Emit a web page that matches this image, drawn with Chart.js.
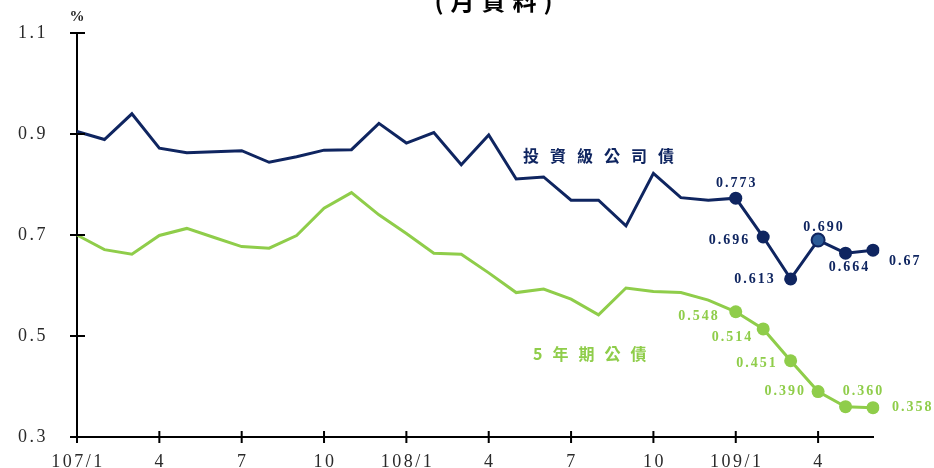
<!DOCTYPE html>
<html>
<head>
<meta charset="utf-8">
<script src="https://cdn.jsdelivr.net/npm/chart.js@4"></script>
<style>
  html, body { margin: 0; padding: 0; background: #fff; overflow: hidden; }
  #wrap { position: relative; width: 934px; height: 468px; }
  #title {
    position: absolute; left: 0; width: 994px; top: -18px; text-align: center;
    font: bold 24px "Noto Sans CJK TC", serif; letter-spacing: 7px; color: #000;
  }
</style>
</head>
<body>
<div id="wrap">
  <canvas id="chart" width="934" height="468"></canvas>
  <div id="title">(月資料)</div>
</div>
<script>
  // months 107/1 .. 109/6
  const categories = [
    '107/1','107/2','107/3','107/4','107/5','107/6','107/7','107/8','107/9','107/10','107/11','107/12',
    '108/1','108/2','108/3','108/4','108/5','108/6','108/7','108/8','108/9','108/10','108/11','108/12',
    '109/1','109/2','109/3','109/4','109/5','109/6'
  ];
  const tickText = [
    '107/1','','','4','','','7','','','10','','',
    '108/1','','','4','','','7','','','10','','',
    '109/1','','','4','',''
  ];
  const yTicks = [0.3, 0.5, 0.7, 0.9, 1.1];

  // 投資級公司債
  const corpBond = [
    0.905, 0.889, 0.940, 0.872, 0.863, 0.865, 0.867, 0.844, 0.855, 0.868, 0.869, 0.921,
    0.882, 0.903, 0.839, 0.898, 0.811, 0.815, 0.769, 0.769, 0.718, 0.822, 0.774, 0.769,
    0.773, 0.696, 0.613, 0.690, 0.664, 0.67
  ];
  // 5年期公債
  const govBond = [
    0.700, 0.671, 0.662, 0.699, 0.713, 0.695, 0.677, 0.674, 0.699, 0.753, 0.784, 0.740,
    0.703, 0.664, 0.662, 0.625, 0.586, 0.593, 0.573, 0.542, 0.595, 0.588, 0.586, 0.571,
    0.548, 0.514, 0.451, 0.390, 0.360, 0.358
  ];
  const corpLabels = ['0.773','0.696','0.613','0.690','0.664','0.67'];
  const govLabels = ['0.548','0.514','0.451','0.390','0.360','0.358'];

  const NAVY = '#0f2560';
  const GREEN = '#8fcd4a';
  const firstMarked = 24;

  // label placement relative to the point: [dx, dy, align]
  const corpLabelPos = [[0,-15,'center'],[-14,3,'right'],[-16,0,'right'],[5,-13,'center'],[3,14,'center'],[16,11,'left']];
  const govLabelPos = [[-17,5,'right'],[-11,8,'right'],[-14,3,'right'],[-13,0,'right'],[17,-15,'center'],[19,0,'left']];

  const decor = {
    id: 'decor',
    afterDraw(chart) {
      const { ctx, scales: { x, y } } = chart;
      ctx.save();
      // cross ticks on the axes
      ctx.strokeStyle = '#000';
      ctx.lineWidth = 2;
      ctx.beginPath();
      yTicks.forEach(v => {
        const py = y.getPixelForValue(v);
        ctx.moveTo(x.left - 7, py);
        ctx.lineTo(x.left + 8, py);
      });
      tickText.forEach((t, i) => {
        if (!t) return;
        const px = x.getPixelForValue(i);
        ctx.moveTo(px, y.bottom - 6);
        ctx.lineTo(px, y.bottom + 6);
      });
      ctx.stroke();

      // tick labels (wide serif look)
      ctx.font = '18px "Liberation Serif"';
      ctx.letterSpacing = '2.5px';
      ctx.fillStyle = '#2a2a2a';
      ctx.textBaseline = 'middle';
      ctx.textAlign = 'right';
      yTicks.forEach(v => {
        ctx.fillText(v.toFixed(1), 48, y.getPixelForValue(v));
      });
      ctx.textAlign = 'center';
      tickText.forEach((t, i) => {
        if (!t) return;
        ctx.fillText(t, x.getPixelForValue(i) + 1, 462);
      });

      // unit
      ctx.fillStyle = '#222';
      ctx.font = 'bold 15px "Liberation Serif"';
      ctx.letterSpacing = '2px';
      ctx.fillText('%', x.left + 1, 17);

      // value labels
      const drawLabels = (dsIndex, texts, pos, color) => {
        const meta = chart.getDatasetMeta(dsIndex);
        ctx.fillStyle = color;
        ctx.font = 'bold 14px "Liberation Serif"';
        ctx.letterSpacing = '2px';
        texts.forEach((t, k) => {
          const pt = meta.data[firstMarked + k];
          const [dx, dy, align] = pos[k];
          ctx.textAlign = align;
          ctx.fillText(t, pt.x + dx + (align === 'left' ? 0 : 1), pt.y + dy);
        });
      };
      drawLabels(0, corpLabels, corpLabelPos, NAVY);
      drawLabels(1, govLabels, govLabelPos, GREEN);

      // series names
      ctx.font = 'bold 16px "Noto Sans CJK TC"';
      ctx.letterSpacing = '11px';
      ctx.textAlign = 'left';
      ctx.fillStyle = NAVY;
      ctx.fillText('投資級公司債', 523, 156);
      ctx.letterSpacing = '10px';
      ctx.fillStyle = GREEN;
      ctx.fillText('5年期公債', 533, 354);
      ctx.restore();
    }
  };

  const ctx = document.getElementById('chart');
  new Chart(ctx, {
    type: 'line',
    data: {
      labels: categories,
      datasets: [
        {
          label: '投資級公司債',
          data: corpBond,
          borderColor: NAVY,
          backgroundColor: NAVY,
          borderWidth: 3,
          tension: 0,
          pointRadius: c => c.dataIndex >= firstMarked ? 6.5 : 0,
          pointBackgroundColor: c => c.dataIndex === 27 ? '#2b5a96' : NAVY,
          pointBorderColor: NAVY,
          pointBorderWidth: c => c.dataIndex === 27 ? 2 : 0
        },
        {
          label: '5年期公債',
          data: govBond,
          borderColor: GREEN,
          backgroundColor: GREEN,
          borderWidth: 3,
          tension: 0,
          pointRadius: c => c.dataIndex >= firstMarked ? 6.5 : 0,
          pointBackgroundColor: GREEN,
          pointBorderWidth: 0
        }
      ]
    },
    options: {
      responsive: false,
      animation: false,
      layout: { padding: { left: 0, right: 61, top: 33, bottom: 0 } },
      plugins: { legend: { display: false }, tooltip: { enabled: false } },
      scales: {
        x: {
          offset: false,
          grid: { display: false, drawTicks: false },
          border: { color: '#000', width: 2 },
          afterFit: s => { s.height = 31; },
          ticks: { display: false, autoSkip: false }
        },
        y: {
          min: 0.3, max: 1.1,
          afterFit: s => { s.width = 77; },
          afterBuildTicks: s => { s.ticks = yTicks.map(v => ({ value: v })); },
          grid: { display: false, drawTicks: false },
          border: { color: '#000', width: 2 },
          ticks: { display: false }
        }
      }
    },
    plugins: [decor]
  });
</script>
</body>
</html>
